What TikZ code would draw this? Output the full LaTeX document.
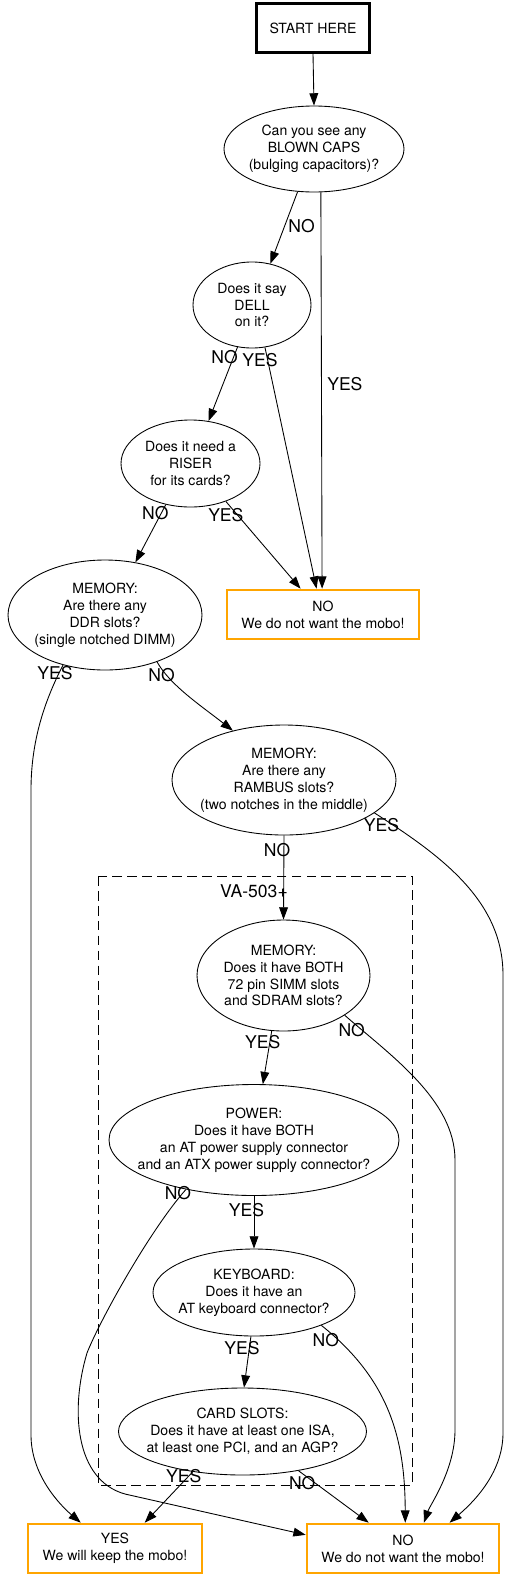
\documentclass[tikz,border=0pt]{standalone}
\usepackage{fontspec}
\setmainfont{TeX Gyre Heros}
\usetikzlibrary{arrows.meta, shapes.geometric}
\definecolor{boxorange}{HTML}{FFA500}

\begin{document}
\begin{tikzpicture}[
    x=0.02cm, y=-0.02cm, line width=0.5pt,
    every node/.style={font=\fontsize{8}{9.6}\selectfont},
    ask/.style 2 args={ellipse, draw, align=center, inner sep=-20pt,
                       minimum width=#1*0.02cm, minimum height=#2*0.02cm},
    startbox/.style={draw, line width=1.2pt,
                     minimum width=2.26cm, minimum height=0.98cm},
    verdict/.style={draw=boxorange, line width=1.5pt, align=center,
                    minimum width=#1*0.02cm, minimum height=0.98cm},
    lbl/.style={font=\fontsize{10}{12}\selectfont, inner sep=0pt},
    >={Triangle[length=7pt, width=5pt]},
  ]
  \useasboundingbox (0,0) rectangle (527,1589);

  % VA-503+ cluster
  \draw[dash pattern=on 5.5pt off 3pt] (98,876) rectangle (412,1485);
  \node[lbl] (vaname) at (254,891) {VA-503+};

  % Questions
  \node[startbox] (start) at (313,28) {START HERE};
  \node[ask={180}{86}] (caps) at (314,149)
    {Can you see any\\BLOWN CAPS\\(bulging capacitors)?};
  \node[ask={118}{86}] (dell) at (252,305) {Does it say\\DELL\\on it?};
  \node[ask={139}{87}] (riser) at (190.5,463.5)
    {Does it need a\\RISER\\for its cards?};
  \node[ask={194}{110}] (ddr) at (105,615)
    {MEMORY:\\Are there any\\DDR slots?\\(single notched DIMM)};
  \node[ask={224}{110}] (rambus) at (284,780)
    {MEMORY:\\Are there any\\RAMBUS slots?\\(two notches in the middle)};
  \node[ask={173}{111}] (both) at (283.5,975.5)
    {MEMORY:\\Does it have BOTH\\72 pin SIMM slots\\and SDRAM slots?};
  \node[ask={290}{111}] (power) at (254,1140)
    {POWER:\\Does it have BOTH\\an AT power supply connector\\and an ATX power supply connector?};
  \node[ask={202}{87}] (kbd) at (254,1292.5)
    {KEYBOARD:\\Does it have an\\AT keyboard connector?};
  \node[ask={248}{87}] (card) at (242.5,1431.5)
    {CARD SLOTS:\\Does it have at least one ISA,\\at least one PCI, and an AGP?};

  % Answers
  \node[verdict=192] (no1) at (323,614.5) {NO\\We do not want the mobo!};
  \node[verdict=174] (keep) at (115,1548.5) {YES\\We will keep the mobo!};
  \node[verdict=192] (no2) at (403,1548.5) {NO\\We do not want the mobo!};

  % Edges
  \draw[->] (start.south) -- (caps.north);

  \draw[->] (caps.-111) node[lbl, shift={(4,34)}] {NO} -- (dell.66);
  \draw[->] (caps.-81) node[lbl, shift={(24,192)}] {YES} -- (no1.92);

  \draw[->] (dell.-109) node[lbl, shift={(-13,10)}] {NO} -- (riser.67);
  \draw[->] (dell.-73) node[lbl, shift={(-5,12.5)}] {YES} -- (no1.104);

  \draw[->] (riser.-121) node[lbl, shift={(-10.5,8.5)}] {NO} -- (ddr.60);
  \draw[->] (riser.-47) node[lbl, shift={(0,13.5)}] {YES} -- (no1.131);

  \draw[->] (ddr.-130) node[lbl, shift={(-8,8)}] {YES}
    .. controls (45,700) and (31,740) .. (31,790) -- (31,1435)
    .. controls (31,1475) and (60,1505) .. (keep.143);
  \draw[->] (ddr.-42) node[lbl, shift={(4.5,13)}] {NO}
    .. controls (170,685) and (200,705) .. (rambus.136);

  \draw[->] (rambus.-20) node[lbl, shift={(7,12.5)}] {YES}
    .. controls (440,855) and (503,900) .. (503,975) -- (503,1433)
    .. controls (503,1475) and (470,1505) .. (no2.29);
  \draw[->] (rambus.south) node[lbl, shift={(-7,14.5)}] {NO} -- (both.north);

  \draw[->] (both.-102) node[lbl, shift={(-9,11)}] {YES} -- (power.81);
  \draw[->] (both.-33) node[lbl, shift={(7,15)}] {NO}
    .. controls (390,1055) and (455,1100) .. (455,1160) -- (455,1430)
    .. controls (455,1470) and (430,1505) .. (no2.51);

  \draw[->] (power.south) node[lbl, shift={(-7.5,14)}] {YES} -- (kbd.north);
  \draw[->] (power.-144) node[lbl, shift={(-8,4)}] {NO}
    .. controls (150,1230) and (100,1320) .. (87,1353)
    .. controls (70,1410) and (75,1480) .. (125,1494) -- (no2.172);

  \draw[->] (kbd.-94) node[lbl, shift={(-9,11.5)}] {YES} -- (card.88);
  \draw[->] (kbd.-26) node[lbl, shift={(4.5,14.5)}] {NO}
    .. controls (390,1380) and (405,1440) .. (no2.85);

  \draw[->] (card.-141) node[lbl, shift={(-9,4.5)}] {YES} -- (keep.41);
  \draw[->] (card.-35) node[lbl, shift={(3.7,12.5)}] {NO} -- (no2.143);
\end{tikzpicture}
\end{document}
